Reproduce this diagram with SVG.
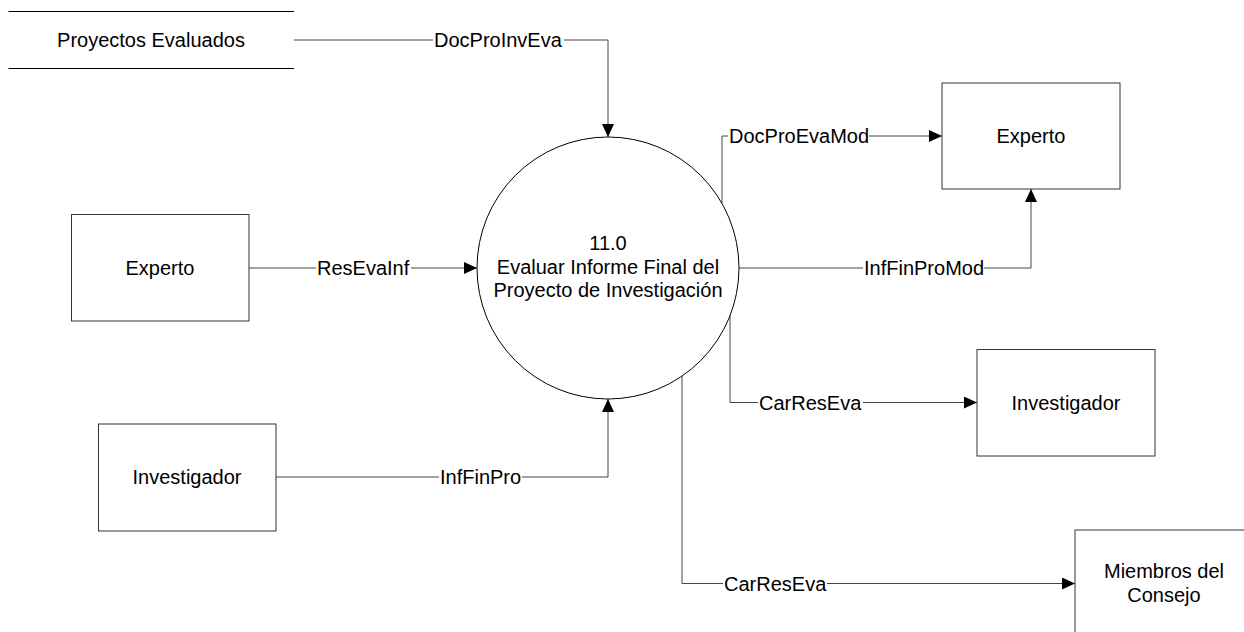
<svg xmlns="http://www.w3.org/2000/svg" width="1244" height="632" viewBox="0 0 1244 632">
<style>
.t{font-family:"Liberation Sans",Arial,sans-serif;font-size:20px;fill:#000;text-anchor:middle}
.lb{font-family:"Liberation Sans",Arial,sans-serif;font-size:20px;fill:#000}
.box{fill:#fff;stroke:#333;stroke-width:1}
.cn{fill:none;stroke:#444;stroke-width:1}
.bg{fill:#fff}
</style>
<defs>
<marker id="ah" markerUnits="userSpaceOnUse" markerWidth="14" markerHeight="12" refX="13" refY="6" orient="auto">
<path d="M0,0 L13,6 L0,12 z" fill="#000"/>
</marker>
</defs>
<rect width="1244" height="632" fill="#fff"/>
<g id="connectors">
<path class="cn" d="M294,40 H608 V137" marker-end="url(#ah)"/>
<path class="cn" d="M722,203.5 V136 H942" marker-end="url(#ah)"/>
<path class="cn" d="M739,268 H1031 V189" marker-end="url(#ah)"/>
<path class="cn" d="M730,316 V402.5 H977" marker-end="url(#ah)"/>
<path class="cn" d="M682,376 V583.5 H1075" marker-end="url(#ah)"/>
<path class="cn" d="M249,268 H477" marker-end="url(#ah)"/>
<path class="cn" d="M276,477 H608 V399" marker-end="url(#ah)"/>
<rect class="bg" x="433" y="30" width="131" height="20"/>
<text class="lb" x="434" y="47">DocProInvEva</text>
<rect class="bg" x="728" y="126" width="141" height="20"/>
<text class="lb" x="729" y="143">DocProEvaMod</text>
<rect class="bg" x="863" y="258" width="121" height="20"/>
<text class="lb" x="864" y="275">InfFinProMod</text>
<rect class="bg" x="758" y="392" width="105" height="20"/>
<text class="lb" x="759" y="409.5">CarResEva</text>
<rect class="bg" x="723" y="573" width="104" height="20"/>
<text class="lb" x="724" y="590.5">CarResEva</text>
<rect class="bg" x="316" y="258" width="95" height="20"/>
<text class="lb" x="317" y="275">ResEvaInf</text>
<rect class="bg" x="439" y="467" width="83" height="20"/>
<text class="lb" x="440" y="484">InfFinPro</text>
</g>
<g id="store-proyectos">
<line x1="8.5" y1="11.5" x2="294" y2="11.5" stroke="#000"/>
<line x1="8.5" y1="68.5" x2="294" y2="68.5" stroke="#000"/>
<text class="t" x="151" y="47">Proyectos Evaluados</text>
</g>
<g id="process-11">
<circle cx="608" cy="268" r="131" fill="#fff" stroke="#000" stroke-width="1"/>
<text class="t" x="608" y="249.5">11.0</text>
<text class="t" x="608" y="274">Evaluar Informe Final del</text>
<text class="t" x="608" y="297">Proyecto de Investigación</text>
</g>
<g id="experto-left">
<rect class="box" x="71.5" y="214.5" width="177.5" height="106.5"/>
<text class="t" x="160" y="275">Experto</text>
</g>
<g id="investigador-left">
<rect class="box" x="98.5" y="424" width="177.5" height="107"/>
<text class="t" x="187" y="484">Investigador</text>
</g>
<g id="experto-right">
<rect class="box" x="942" y="83" width="178" height="106"/>
<text class="t" x="1031" y="143">Experto</text>
</g>
<g id="investigador-right">
<rect class="box" x="977" y="349.5" width="178" height="106.5"/>
<text class="t" x="1066" y="409.5">Investigador</text>
</g>
<g id="miembros-consejo">
<rect class="box" x="1075" y="530" width="178" height="107"/>
<text class="t" x="1164" y="578">Miembros del</text>
<text class="t" x="1164" y="602">Consejo</text>
</g>
</svg>
